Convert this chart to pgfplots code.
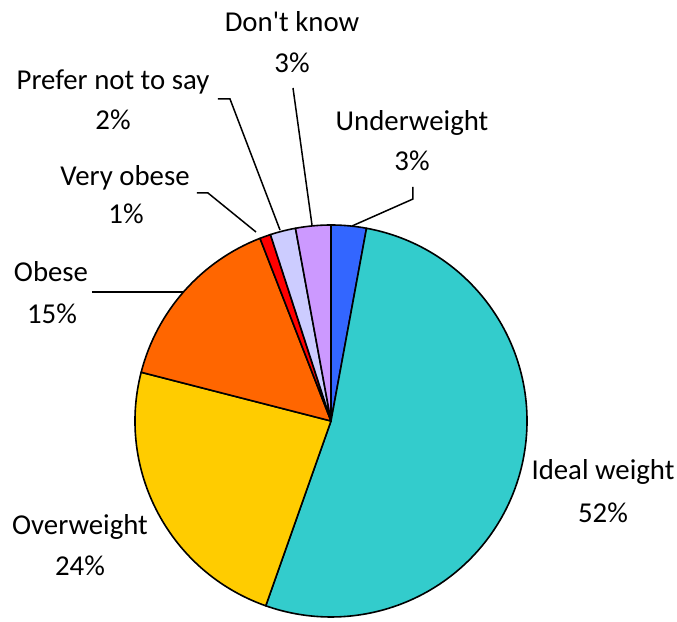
\documentclass[border=0pt]{standalone}
\usepackage{fontspec}
\setmainfont{Carlito}
\usepackage{pgfplots}
\pgfplotsset{compat=1.18}
\definecolor{cUnder}{HTML}{3366FF}
\definecolor{cIdeal}{HTML}{33CCCC}
\definecolor{cOver}{HTML}{FFCC00}
\definecolor{cObese}{HTML}{FF6600}
\definecolor{cVery}{HTML}{FF0000}
\definecolor{cPrefer}{HTML}{CCCCFF}
\definecolor{cDont}{HTML}{CC99FF}
\tikzset{lbl/.style={font=\fontsize{14.4}{17}\selectfont, inner sep=0pt, anchor=base}}
\begin{document}
\begin{tikzpicture}
\begin{axis}[
  width=338.5pt, height=310.5pt, scale only axis,
  xmin=0, xmax=677, ymin=0, ymax=621,
  hide axis, clip=false,
]
\path (rel axis cs:0,0) rectangle (rel axis cs:1,1);
% slices: share in percent, clockwise from 12 o'clock
\gdef\acc{90}
\foreach \v/\c in {2.9/cUnder, 52.5/cIdeal, 23.6/cOver, 15.1/cObese, 0.9/cVery, 2.1/cPrefer, 2.9/cDont} {
  \pgfmathsetmacro\e{\acc-3.6*\v}
  \edef\tmp{\noexpand\filldraw[fill=\c, draw=black, line width=0.8pt, line join=round] (axis cs:331,200) -- ++(\acc:98pt) arc[start angle=\acc, end angle=\e, radius=98pt] -- cycle;}
  \tmp
  \global\let\acc\e
}
% leader lines
\draw[line width=0.75pt] (axis cs:413,434) -- (axis cs:413,422) -- (axis cs:352,395);
\draw[line width=0.75pt] (axis cs:293,533) -- (axis cs:312,396);
\draw[line width=0.75pt] (axis cs:218,522) -- (axis cs:230,522) -- (axis cs:280,391);
\draw[line width=0.75pt] (axis cs:197,428) -- (axis cs:208,428) -- (axis cs:256,389);
\draw[line width=0.75pt] (axis cs:92,329) -- (axis cs:183,329);
% labels
\node[lbl] at (axis cs:292,589) {Don\textquotesingle t know};
\node[lbl] at (axis cs:292,549) {3\%};
\node[lbl] at (axis cs:113,531) {Prefer not to say};
\node[lbl] at (axis cs:113,491) {2\%};
\node[lbl] at (axis cs:125,436) {Very obese};
\node[lbl] at (axis cs:126,398) {1\%};
\node[lbl] at (axis cs:412,490) {Underweight};
\node[lbl] at (axis cs:412,451) {3\%};
\node[lbl] at (axis cs:51,339) {Obese};
\node[lbl] at (axis cs:52,298) {15\%};
\node[lbl] at (axis cs:603,141) {Ideal weight};
\node[lbl] at (axis cs:603,98) {52\%};
\node[lbl] at (axis cs:80,86) {Overweight};
\node[lbl] at (axis cs:80,46) {24\%};
\end{axis}
\end{tikzpicture}
\end{document}
